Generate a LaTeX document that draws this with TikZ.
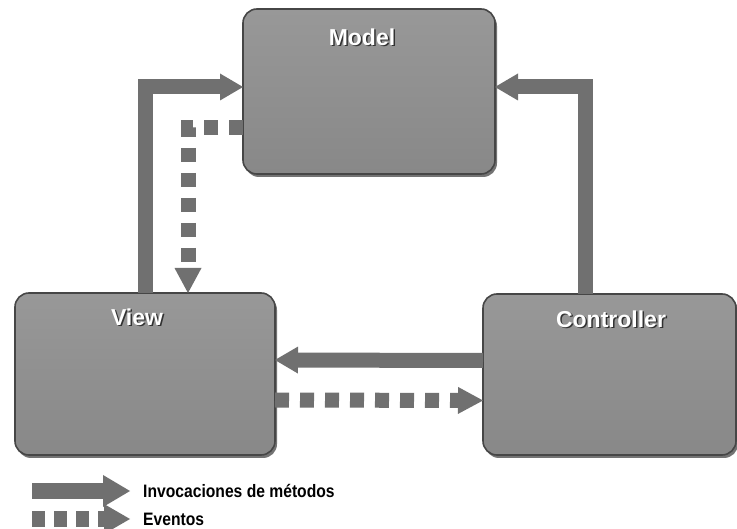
\documentclass[tikz,border=0pt]{standalone}
\usepackage{fontspec}
\setmainfont{Liberation Sans}
\newfontfamily\legendfont[FakeStretch=0.87]{Liberation Sans}
\usetikzlibrary{arrows.meta,shadows}

\definecolor{boxtop}{RGB}{152,152,152}
\definecolor{boxbot}{RGB}{136,136,136}
\definecolor{boxline}{RGB}{70,70,70}
\definecolor{arrowgray}{RGB}{112,112,112}
\definecolor{labelshadow}{RGB}{50,50,50}

\tikzset{
  mvcbox/.style={rectangle, rounded corners=14pt, draw=boxline, line width=1.6pt,
    top color=boxtop, bottom color=boxbot, inner sep=0pt, outer sep=0pt,
    drop shadow={shadow xshift=2pt, shadow yshift=-3pt, opacity=0.55, fill=black}},
  boxlabel/.style={font=\bfseries\fontsize{23}{26}\selectfont, text=white, inner sep=0pt},
  boxlabelshadow/.style={boxlabel, text=labelshadow},
  callarrow/.style={draw=arrowgray, line width=15pt, line join=miter,
    -{Triangle[width=27pt,length=23pt,line width=0pt]}},
  eventarrow/.style={draw=arrowgray, line width=15pt, line join=miter,
    dash pattern=on 14pt off 11pt,
    -{Triangle[width=27pt,length=25pt,line width=0pt]}},
  legendtext/.style={font=\legendfont\bfseries\fontsize{18}{20}\selectfont, anchor=west, inner sep=0pt},
}

\begin{document}
\begin{tikzpicture}[x=1pt, y=-1pt]
  \useasboundingbox (0,0) rectangle (737,529);
  \fill[white] (0,0) rectangle (737,529);

  \coordinate (mc) at (369,91.5);
  \coordinate (vc) at (145,374);
  \coordinate (cc) at (609.5,374.5);

  % the three components
  \node[mvcbox, minimum width=252pt, minimum height=165pt] (model) at (mc) {};
  \node[mvcbox, minimum width=260pt, minimum height=162pt] (view) at (vc) {};
  \node[mvcbox, minimum width=253pt, minimum height=161pt] (controller) at (cc) {};

  % method calls
  \draw[callarrow] (view.north) |- ([yshift=4.5pt]model.west);
  \draw[callarrow] ([xshift=-24pt]controller.north) |- ([yshift=4.5pt]model.east);
  \draw[callarrow] ([yshift=14pt]controller.west) -- ([yshift=14pt]view.east);

  % events
  \draw[eventarrow] ([yshift=-36.5pt]model.west) -| ([xshift=43pt]view.north);
  \draw[eventarrow] ([yshift=-26pt]view.east) -- ([yshift=-26pt]controller.west);

  % box titles with a dark shadow
  \node[boxlabelshadow] (modelshadow) at (363.5,38.5) {Model};
  \node[boxlabel] (modeltitle) at (362,37) {Model};
  \node[boxlabelshadow] (viewshadow) at (138.5,318.5) {View};
  \node[boxlabel] (viewtitle) at (137,317) {View};
  \node[boxlabelshadow] (controllershadow) at (612.5,320.5) {Controller};
  \node[boxlabel] (controllertitle) at (611,319) {Controller};

  % legend
  \coordinate (callfrom) at (32,491);
  \coordinate (callto) at (130,491);
  \draw[draw=arrowgray, line width=16pt,
    -{Triangle[width=32pt,length=27pt,line width=0pt]}] (callfrom) -- (callto);
  \node[legendtext] (calltext) at (143,491) {Invocaciones de métodos};

  \coordinate (eventfrom) at (32,519);
  \coordinate (eventto) at (130,519);
  \draw[draw=arrowgray, line width=16pt, dash pattern=on 13pt off 9pt,
    -{Triangle[width=30pt,length=26pt,line width=0pt]}] (eventfrom) -- (eventto);
  \node[legendtext] (eventtext) at (143,519) {Eventos};
\end{tikzpicture}
\end{document}
